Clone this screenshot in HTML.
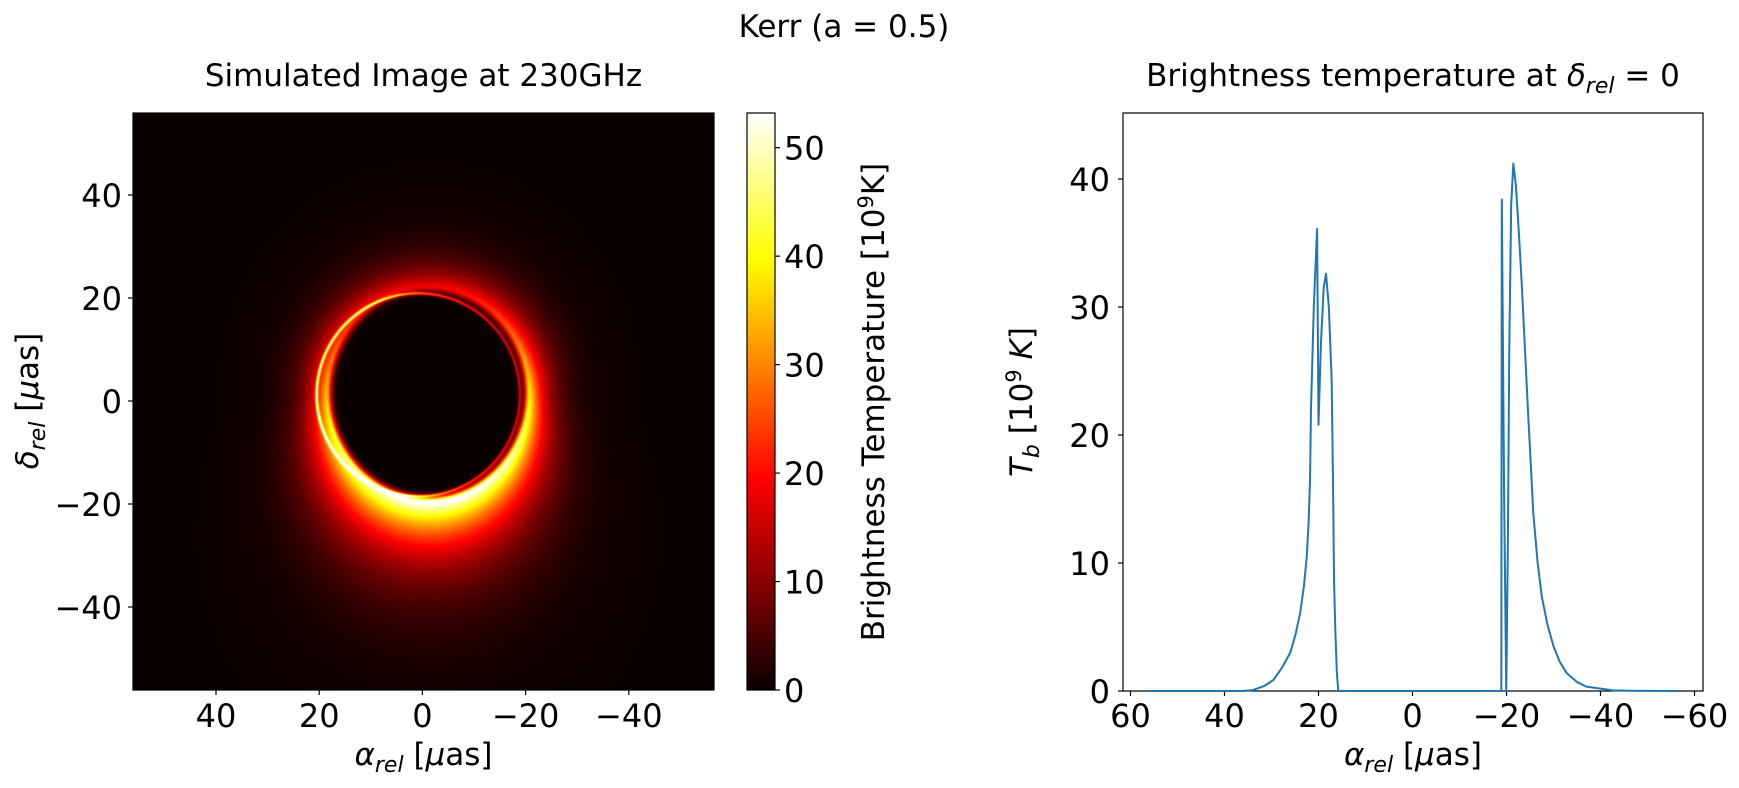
<!DOCTYPE html>
<html><head><meta charset="utf-8">
<style>
html,body{margin:0;padding:0;background:#fff;}
body{width:1739px;height:788px;position:relative;overflow:hidden;font-family:"DejaVu Sans","Liberation Sans",sans-serif;}
#bhimg{position:absolute;left:133px;top:113px;}
#fig{position:absolute;left:0;top:0;}
</style></head>
<body>
<canvas id="bhimg" width="581" height="577"></canvas>
<svg id="fig" width="1739" height="788" xmlns="http://www.w3.org/2000/svg" font-family="DejaVu Sans, Liberation Sans, sans-serif">
<defs>
<linearGradient id="hotcm" x1="0" y1="1" x2="0" y2="0">
<stop offset="0" stop-color="rgb(10,0,0)"/>
<stop offset="0.365" stop-color="rgb(255,0,0)"/>
<stop offset="0.746" stop-color="rgb(255,255,0)"/>
<stop offset="1" stop-color="rgb(255,255,255)"/>
</linearGradient>
</defs>
<text x="844" y="37" font-size="31" text-anchor="middle">Kerr (a = 0.5)</text>
<text x="423.5" y="86" font-size="31" text-anchor="middle">Simulated Image at 230GHz</text>
<text x="1413" y="86" font-size="31" text-anchor="middle">Brightness temperature at <tspan font-style="italic">δ</tspan><tspan font-style="italic" font-size="22" dy="7">rel</tspan><tspan dy="-7"> = 0</tspan></text>
<rect x="133" y="113" width="581" height="577" fill="none" stroke="#000" stroke-width="1.2"/>
<rect x="747" y="113" width="28" height="577" fill="url(#hotcm)" stroke="#000" stroke-width="1.2"/>
<text transform="translate(884,402) rotate(-90)" font-size="31" text-anchor="middle">Brightness Temperature [10<tspan font-size="21" dy="-11">9</tspan><tspan dy="11">K]</tspan></text>
<text x="423.5" y="765" font-size="31" text-anchor="middle"><tspan font-style="italic">α</tspan><tspan font-style="italic" font-size="22" dy="7">rel</tspan><tspan dy="-7"> [</tspan><tspan font-style="italic">μ</tspan>as]</text>
<text transform="translate(38,401) rotate(-90)" font-size="31" text-anchor="middle"><tspan font-style="italic">δ</tspan><tspan font-style="italic" font-size="22" dy="7">rel</tspan><tspan dy="-7"> [</tspan><tspan font-style="italic">μ</tspan>as]</text>
<rect x="1123" y="113" width="580" height="578" fill="none" stroke="#000" stroke-width="1.2"/>
<text x="1413" y="765" font-size="31" text-anchor="middle"><tspan font-style="italic">α</tspan><tspan font-style="italic" font-size="22" dy="7">rel</tspan><tspan dy="-7"> [</tspan><tspan font-style="italic">μ</tspan>as]</text>
<text transform="translate(1032,402) rotate(-90)" font-size="31" text-anchor="middle"><tspan font-style="italic">T</tspan><tspan font-style="italic" font-size="22" dy="7">b</tspan><tspan dy="-7"> [10</tspan><tspan font-size="21" dy="-11">9</tspan><tspan dy="11"> </tspan><tspan font-style="italic">K</tspan>]</text>
<g id="tickgroup"></g>
<polyline id="tbline" fill="none" stroke="#1f77b4" stroke-width="2" stroke-linejoin="round"/>
</svg>
<script>
// ---- Right chart data: brightness temperature profile at delta=0 ----
var bhAlphaVals = [56,36,33.9,31.5,29.6,27.8,26,24.9,23.9,23.1,22.5,22.1,21.8,21.6,21.3,21.0,20.6,20.3,20.0,19.5,18.9,18.4,17.8,17.2,16.9,16.7,16.4,16.1,15.8,0,-18.9,-19.0,-19.5,-19.95,-20.3,-20.6,-21.0,-21.45,-22,-22.6,-23.2,-24.6,-25.7,-26.6,-27.5,-28.7,-30,-31.3,-32.8,-35,-37,-42.7,-48,-56];
var bhTbVals =    [0,0,0.08,0.4,0.86,1.8,3.0,4.4,6.1,8.2,10.5,13.2,16.5,22,26,30,33.5,36.1,20.8,27,31.5,32.6,30,24.3,16,8.7,4.5,1.5,0,0,0,38.4,15,0,12,27,38,41.2,39.5,36,32.1,21.7,13.9,10.1,7.4,5.2,3.5,2.3,1.4,0.7,0.34,0.05,0.01,0];
var bhRightXTicks = [60,40,20,0,-20,-40,-60];
var bhRightYTicks = [0,10,20,30,40];
var bhImgTicks = [40,20,0,-20,-40];
var bhCbTicks = [0,10,20,30,40,50];
var bhCbMax = 53.2;
var bhShadowParams = [-1.1, 1.3, 18.3, 19.5];
var bhPhotonRing = [0.8, 1.2, 19.7];

(function(){
  var NSV = "http://www.w3.org/2000/svg";
  var grp = document.getElementById('tickgroup');
  function rxs(a){return 1130.5 + (60 - a) * 4.70;}
  function rys(t){return 691 - t * 12.8;}
  function ixs(a){return 422.4 - a * 5.16;}
  function iys(d){return 401 - d * 5.15;}
  function cys(v){return 690 - v * (577 / bhCbMax);}
  function mkLine(x1,y1,x2,y2){var el=document.createElementNS(NSV,'line');el.setAttribute('x1',x1);el.setAttribute('y1',y1);el.setAttribute('x2',x2);el.setAttribute('y2',y2);el.setAttribute('stroke','#000');el.setAttribute('stroke-width','1.2');grp.appendChild(el);return el;}
  function mkText(x,y,s,anchor){var el=document.createElementNS(NSV,'text');el.setAttribute('x',x);el.setAttribute('y',y);el.setAttribute('font-size','32');el.setAttribute('text-anchor',anchor);el.textContent=s;grp.appendChild(el);return el;}
  function fmt(v){return v<0?'\u2212'+(-v):String(v);}

  bhImgTicks.forEach(function(v){
    var el=mkLine(ixs(v),690,ixs(v),695);
    
    
    el=mkText(ixs(v),727,fmt(v),'middle');
    
    
    el=mkLine(128,iys(v),133,iys(v));
    
    
    el=mkText(122,iys(v)+12,fmt(v),'end');
    
    
  });
  bhCbTicks.forEach(function(v){
    var el=mkLine(775,cys(v),780,cys(v));
    
    
    el=mkText(784,cys(v)+12,String(v),'start');
    
    
  });
  bhRightXTicks.forEach(function(v){
    var el=mkLine(rxs(v),691,rxs(v),696);
    
    
    el=mkText(rxs(v),727,fmt(v),'middle');
    
    
  });
  bhRightYTicks.forEach(function(v){
    var el=mkLine(1118,rys(v),1123,rys(v));
    
    
    el=mkText(1110,rys(v)+12,String(v),'end');
    
    
  });
  var pts=[];
  for(var i=0;i<bhAlphaVals.length;i++){pts.push(rxs(bhAlphaVals[i]).toFixed(2)+','+rys(bhTbVals[i]).toFixed(2));}
  document.getElementById('tbline').setAttribute('points', pts.join(' '));

  function hotc(t){
    t=Math.max(0,Math.min(1,t));
    var r=Math.min(1,0.0416+ t/0.365*(1-0.0416));
    var gg=Math.max(0,Math.min(1,(t-0.365)/0.381));
    var bb=Math.max(0,Math.min(1,(t-0.746)/0.254));
    return [r*255,gg*255,bb*255];
  }
  var cv=document.getElementById('bhimg');
  var ctx=cv.getContext('2d');
  if(!ctx) return;
  var W=cv.width,H=cv.height;
  var imd=ctx.createImageData(W,H);
  for(var py=0;py<H;py++){
    var d=(401-(113+py+0.5))/5.15;
    for(var px=0;px<W;px++){
      var a=(422.4-(133+px+0.5))/5.16;
      var dx=(a-bhShadowParams[0]), dy=(d-bhShadowParams[1]);
      var rn=Math.sqrt(Math.pow(dx/bhShadowParams[2],2)+Math.pow(dy/bhShadowParams[3],2));
      var u=(rn-1)*19;
      var phi=Math.atan2(dy,-dx);
      var sn=Math.sin(phi);
      var A=37+4*Math.cos(phi)-16*sn+3*Math.cos(phi-Math.PI*1.25);
      var sc=3.4+4.6*Math.pow(Math.max(0,-sn),1.5)+0.8*Math.max(0,sn);
      var p=1.5;
      var f=u<p?Math.exp(-Math.pow((u-p)/1.1,2)):Math.exp(-(u-p)/sc);
      var T=A*f;
      var pr=Math.sqrt(Math.pow(a-bhPhotonRing[0],2)+Math.pow(d-bhPhotonRing[1],2))-bhPhotonRing[2];
      T+=(24-8*Math.cos(phi))*Math.exp(-Math.pow(pr/0.28,2));
      var c=hotc(T/bhCbMax);
      var k=(py*W+px)*4;
      imd.data[k]=c[0];imd.data[k+1]=c[1];imd.data[k+2]=c[2];imd.data[k+3]=255;
    }
  }
  ctx.putImageData(imd,0,0);
})();
</script>
</body></html>
